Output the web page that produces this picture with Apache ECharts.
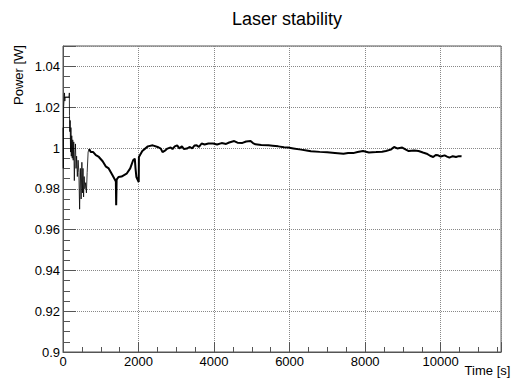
<!DOCTYPE html>
<html>
<head>
<meta charset="utf-8">
<script src="https://cdn.jsdelivr.net/npm/echarts@6/dist/echarts.min.js"></script>
<style>
html,body{margin:0;padding:0;background:#fff;}
#chart{width:512px;height:379px;}
</style>
</head>
<body>
<div id="chart"></div>
<script>
const titleText = 'Laser stability';
const xName = 'Time [s]';
const yName = 'Power [W]';

// Early, noisy part of the run
const timesEarly = [
  0, 8, 16, 40, 48, 56, 160, 168, 172, 180, 190, 200, 210, 220, 232, 245, 258, 270, 285, 300,
  315, 330, 345, 360, 380, 400, 420, 440, 460, 480, 500, 515, 530, 545, 560, 580, 600, 620, 640, 665, 692
];
const powerEarly = [
  1.010, 0.990, 1.020, 1.027, 1.023, 1.025, 1.025, 1.027, 1.016, 1.008, 1.0135, 0.998, 1.010, 0.996, 1.006, 0.995, 1.004, 0.994, 1.003, 0.984,
  0.997, 1.002, 0.990, 0.996, 0.986, 0.994, 0.988, 0.970, 0.990, 0.975, 0.993, 0.978, 0.990, 0.976, 0.986, 0.980, 0.983, 0.978, 0.988, 0.998, 0.9995
];

// Later, stable part of the run
const timesLate = [
  692, 735, 800, 870, 950, 1050, 1130, 1210, 1300, 1383, 1400, 1408, 1420, 1469, 1550, 1684,
  1780, 1857, 1901, 1920, 1943, 2005, 2010, 2100, 2246, 2376, 2505, 2590, 2635, 2720, 2764, 2850, 2900, 2960, 3023, 3080,
  3150, 3200, 3282, 3350, 3420, 3480, 3541, 3600, 3671, 3750, 3850, 3974, 4080, 4200, 4319, 4400, 4534, 4620, 4751, 4850,
  4966, 5030, 5096, 5250, 5440, 5550, 5699, 5850, 5959, 6100, 6305, 6450, 6565, 6800, 6995, 7200, 7427, 7550, 7686, 7800,
  7945, 8100, 8290, 8450, 8549, 8679, 8767, 8850, 8982, 9080, 9155, 9300, 9415, 9530, 9630, 9720, 9803, 9870, 9933, 10000,
  10104, 10170, 10233, 10320, 10407, 10480, 10554
];
const powerLate = [
  0.9995, 0.998, 0.998, 0.9965, 0.9956, 0.9935, 0.991, 0.990, 0.987, 0.9842, 0.9835, 0.972, 0.9845, 0.9858, 0.986, 0.9874,
  0.990, 0.994, 0.9948, 0.990, 0.9858, 0.9833, 0.9956, 0.9985, 1.0008, 1.0013, 1.0005, 0.9997, 0.998, 0.999, 0.9997, 1.0003, 0.9995, 1.0008, 1.0013, 0.9998,
  1.0008, 0.9995, 0.9997, 1.0005, 0.9998, 1.0012, 1.0013, 1.0005, 1.0022, 1.0017, 1.0022, 1.0022, 1.0017, 1.0024, 1.0020, 1.0027, 1.0034, 1.0026, 1.0025, 1.0032,
  1.0034, 1.0024, 1.0018, 1.0015, 1.0013, 1.0011, 1.0008, 1.0004, 1.0002, 0.9998, 0.9992, 0.9988, 0.9984, 0.9981, 0.9979, 0.9976, 0.9972, 0.9976, 0.9975, 0.9980,
  0.9985, 0.9978, 0.998, 0.9982, 0.9985, 0.9992, 1.0005, 0.9998, 1.0002, 0.9992, 0.9985, 0.9988, 0.9985, 0.9978, 0.9972, 0.9962, 0.9956, 0.9966, 0.9964, 0.9958,
  0.9964, 0.9958, 0.9953, 0.9960, 0.9956, 0.9960, 0.9959
];

const xMin = 0, xMax = 11600, xStep = 2000;
const yMin = 0.9, yMax = 1.05, yStep = 0.02;

const dataEarly = timesEarly.map((t, i) => [t, powerEarly[i]]);
const dataLate = timesLate.map((t, i) => [t, powerLate[i]]);
const font = 'Liberation Sans, Arial, Helvetica, sans-serif';

const chart = echarts.init(document.getElementById('chart'), null, {renderer: 'svg'});
chart.setOption({
  animation: false,
  backgroundColor: '#fff',
  title: {
    text: titleText,
    left: 232, top: 10, padding: 0,
    textStyle: {fontFamily: font, fontSize: 18, fontWeight: 'normal', color: '#000'}
  },
  grid: {left: 63, top: 46, right: 1, bottom: 27, show: true, borderColor: '#555', borderWidth: 1, backgroundColor: 'transparent'},
  xAxis: {
    type: 'value', min: xMin, max: xMax, interval: xStep,
    name: xName, nameLocation: 'end', nameGap: -1,
    nameTextStyle: {fontFamily: font, fontSize: 13, color: '#000', align: 'right', verticalAlign: 'top', padding: [12, 0, 0, 0]},
    axisLine: {show: true, lineStyle: {color: '#555', width: 1}},
    axisTick: {show: true, inside: true, length: 10, lineStyle: {color: '#555'}},
    minorTick: {show: true, splitNumber: 4, length: 5, lineStyle: {color: '#555'}},
    axisLabel: {fontFamily: font, fontSize: 13, color: '#000', margin: 3, showMaxLabel: false,
      formatter: v => String(v)},
    splitLine: {show: true, lineStyle: {color: '#888', type: [1, 1], width: 1}}
  },
  yAxis: {
    type: 'value', min: yMin, max: yMax, interval: yStep,
    name: yName, nameLocation: 'end', nameGap: 1, nameRotate: 90,
    nameTextStyle: {fontFamily: font, fontSize: 13, color: '#000', align: 'right', verticalAlign: 'bottom', padding: [0, 0, 38, 0]},
    axisLine: {show: true, lineStyle: {color: '#555', width: 1}},
    axisTick: {show: true, inside: true, length: 13, lineStyle: {color: '#555'}},
    minorTick: {show: true, splitNumber: 4, length: 7, lineStyle: {color: '#555'}},
    axisLabel: {fontFamily: font, fontSize: 13, color: '#000', margin: 3, showMaxLabel: false,
      formatter: v => String(parseFloat(v.toFixed(3)))},
    splitLine: {show: true, lineStyle: {color: '#888', type: [1, 1], width: 1}}
  },
  series: [{
    type: 'line', data: dataEarly, symbol: 'none', smooth: false,
    lineStyle: {color: '#000', width: 0.8}
  }, {
    type: 'line', data: dataLate, symbol: 'none', smooth: false,
    lineStyle: {color: '#000', width: 2}
  }]
});
</script>
</body>
</html>
